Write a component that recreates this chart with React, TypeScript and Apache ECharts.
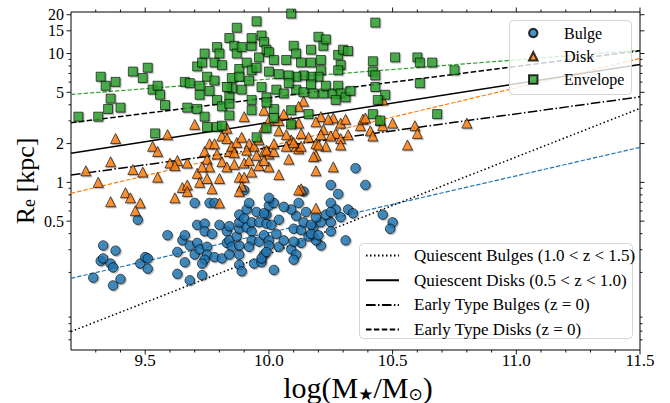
import { useEffect, useRef } from 'react';
import * as echarts from 'echarts';

const FONT = "'Liberation Serif', 'Times New Roman', 'DejaVu Serif', serif";

// ---- scatter data: x = log(M*/Msun), y = log10(Re / kpc) ----
const bulgeLogM = [
  9.47, 9.33, 9.32, 9.33, 9.38, 9.36, 9.37, 9.29, 9.37, 9.40, 9.48, 9.50, 9.51, 9.51, 9.59, 9.63, 9.65, 9.66, 9.66, 9.63,
  9.68, 9.73, 9.68, 9.70, 9.71, 9.71, 9.74, 9.74, 9.77, 9.72, 9.75, 9.75, 9.74, 9.73, 9.78, 9.80, 9.70, 9.76, 9.78, 9.81,
  9.83, 9.83, 9.84, 9.84, 9.85, 9.84, 9.88, 9.88, 9.87, 9.88, 9.88, 9.88, 9.91, 9.92, 9.90, 9.90, 9.91, 9.93, 9.93, 9.95,
  9.96, 9.93, 9.92, 9.88, 9.89, 9.94, 9.97, 9.98, 9.96, 9.98, 10.00, 9.99, 9.99, 10.00,
  10.35, 10.39, 10.25, 10.28, 10.14, 10.12, 10.25, 10.27, 10.32, 10.34, 10.29, 10.25, 10.25, 10.31, 10.46, 10.50, 10.49, 10.21, 10.19, 10.16,
  10.13, 10.09, 10.04, 10.00, 9.97, 9.99, 10.02, 10.10, 10.13, 10.18, 10.21, 10.19, 10.15, 10.11, 10.09, 10.06, 10.02, 10.00, 10.04, 10.01,
  9.98, 10.03, 10.06, 10.10, 10.14, 10.17, 10.23, 10.25, 10.17, 10.20, 10.11, 10.10,
];
const bulgeLogRe = [
  -0.29, -0.49, -0.61, -0.59, -0.53, -0.63, -0.66, -0.74, -0.80, -0.75, -0.63, -0.58, -0.59, -0.67, -0.41, -0.54, -0.45, -0.41, -0.62, -0.71,
  -0.76, -0.72, -0.49, -0.56, -0.47, -0.33, -0.32, -0.38, -0.40, -0.52, -0.50, -0.56, -0.60, -0.63, -0.58, -0.33, -0.16, -0.16, -0.16, -0.59,
  -0.47, -0.38, -0.34, -0.45, -0.50, -0.56, -0.56, -0.49, -0.42, -0.36, -0.31, -0.25, -0.21, -0.16, -0.06, -0.28, -0.35, -0.38, -0.31, -0.23,
  -0.31, -0.45, -0.50, -0.64, -0.69, -0.63, -0.62, -0.56, -0.46, -0.41, -0.45, -0.32, -0.25, -0.18,
  0.11, -0.02, -0.02, -0.09, -0.07, -0.16, -0.16, -0.21, -0.21, -0.24, -0.27, -0.31, -0.38, -0.45, -0.25, -0.31, -0.36, -0.49, -0.45, -0.42,
  -0.47, -0.52, -0.50, -0.49, -0.59, -0.54, -0.68, -0.36, -0.37, -0.35, -0.31, -0.27, -0.23, -0.26, -0.21, -0.19, -0.16, -0.12, -0.29, -0.33,
  -0.24, -0.40, -0.45, -0.46, -0.31, -0.33, -0.25, -0.23, -0.40, -0.41, -0.56, -0.60,
];

const diskLogM = [
  9.26, 9.31, 9.36, 9.38, 9.45, 9.49, 9.53, 9.55, 9.55, 9.59, 9.60, 9.63, 9.67, 9.70, 9.71, 9.74, 9.75, 9.76, 9.78, 9.79,
  9.81, 9.83, 9.84, 9.85, 9.87, 9.89, 9.90, 9.92, 9.94, 9.96, 9.98, 10.00, 10.00, 10.04, 10.04, 10.06, 10.08, 10.09, 10.11, 10.12,
  10.13, 10.14, 10.16, 10.19, 10.19, 10.21, 10.22, 10.23, 10.26, 10.26, 10.27, 10.29, 10.29, 10.31, 10.32, 10.37, 10.38, 10.41, 10.42, 10.45,
  10.46, 10.50, 10.56, 10.59, 10.60, 10.80,
  9.42, 9.44, 9.36, 9.48, 9.46, 9.62, 9.65, 9.67, 9.67, 9.62, 9.72, 9.75, 9.77, 9.80, 9.80, 9.76, 9.73, 9.81, 9.83, 9.86,
  9.86, 9.90, 9.88, 9.90, 9.89, 9.88, 9.92, 9.95, 9.96, 9.98, 9.93, 9.91, 9.99,
  10.02, 10.04, 10.12, 10.18, 10.19, 10.29, 10.12, 10.19, 10.20, 10.07,
  9.98, 10.12, 10.00, 9.98, 10.07, 10.13, 10.19, 10.21, 10.24, 10.25, 10.39, 10.46, 10.09, 10.13, 10.02, 10.10, 9.83,
];
const diskLogRe = [
  0.09, 0.00, 0.16, 0.34, 0.10, 0.08, 0.28, 0.24, 0.04, 0.37, 0.15, 0.17, 0.15, 0.45, 0.07, 0.24, 0.18, 0.30, 0.30, 0.22,
  0.36, 0.34, 0.24, 0.28, 0.31, 0.35, 0.51, 0.30, 0.28, 0.33, 0.24, 0.22, 0.12, 0.40, 0.48, 0.53, 0.18, 0.33, 0.28, 0.46,
  -0.05, 0.63, 0.35, 0.21, 0.30, 0.51, 0.41, 0.28, 0.50, 0.12, 0.38, 0.34, 0.46, 0.49, 0.37, 0.44, 0.49, 0.40, 0.36, 0.48,
  0.64, 0.46, 0.29, 0.44, 0.38, 0.46,
  -0.08, -0.12, -0.15, -0.16, -0.22, 0.13, -0.04, -0.02, -0.07, -0.12, 0.00, 0.03, -0.05, 0.03, -0.16, 0.12, 0.12, 0.16, 0.12, 0.23,
  0.14, 0.15, 0.04, 0.04, -0.03, -0.07, 0.17, 0.21, 0.13, 0.17, 0.08, 0.25, 0.25,
  0.24, 0.06, 0.26, 0.20, 0.09, 0.29, -0.06, -0.20, 0.29, 0.28,
  0.56, 0.59, 0.48, 0.43, 0.37, 0.38, 0.47, 0.37, 0.49, 0.36, 0.50, 0.44, 0.47, 0.28, 0.30, 0.31, 0.42,
];

const envelopeLogM = [
  9.23, 9.31, 9.32, 9.34, 9.35, 9.36, 9.38, 9.40, 9.45, 9.49, 9.51, 9.53, 9.55, 9.56, 9.58, 9.54, 9.66, 9.68, 9.67, 9.72,
  9.72, 9.71, 9.74, 9.71, 9.73, 9.74, 9.75, 9.76, 9.78, 9.78, 9.79, 9.80, 9.81, 9.79, 9.81, 9.84, 9.75, 9.79, 9.81, 9.84,
  9.85, 9.85, 9.84, 9.86, 9.87, 9.87, 9.88, 9.88, 9.89, 9.89, 9.91, 9.92, 9.93, 9.93, 9.95, 9.96, 9.95, 9.97, 9.97, 9.98,
  9.99, 9.93, 9.93, 9.95, 9.99, 9.84, 9.93, 9.83,
  10.09, 10.43, 10.00, 10.02, 10.00, 10.07, 10.10, 10.11, 10.13, 10.17, 10.17, 10.20, 10.22, 10.23, 10.21, 10.21, 10.20, 10.17, 10.14, 10.11,
  10.08, 10.04, 10.03, 10.06, 9.99, 10.11, 10.14, 10.17, 10.18, 10.22, 10.23, 10.26, 10.28, 10.29, 10.27, 10.31, 10.33, 10.28, 10.30, 10.32,
  10.29, 10.28, 10.42, 10.42, 10.43, 10.43, 10.47, 10.44, 10.51, 10.60, 10.61, 10.66, 10.75, 10.61, 10.68, 10.42, 10.45, 10.02, 10.02, 10.09,
  10.16, 10.09, 10.08, 9.99,
];
const envelopeLogRe = [
  0.51, 0.51, 0.82, 0.75, 0.57, 0.65, 0.78, 0.58, 0.86, 0.81, 0.89, 0.72, 0.75, 0.68, 0.60, 0.38, 0.78, 0.77, 0.58, 0.75,
  0.68, 0.57, 0.51, 0.90, 0.93, 1.00, 0.82, 0.71, 0.93, 0.79, 1.05, 1.00, 0.91, 0.64, 0.59, 0.52, 0.43, 0.43, 0.44, 0.67,
  0.81, 0.73, 1.12, 1.06, 1.20, 1.00, 0.88, 0.82, 0.72, 1.05, 0.93, 0.79, 1.06, 0.87, 1.25, 0.97, 0.89, 0.74, 1.14, 1.09,
  1.03, 0.64, 0.56, 0.35, 0.42, 0.61, 1.12, 0.74,
  1.31, 1.24, 1.01, 0.95, 0.86, 0.95, 1.06, 1.00, 0.93, 1.03, 0.93, 1.13, 1.06, 1.11, 0.95, 0.87, 0.82, 0.82, 0.83, 0.82,
  0.83, 0.84, 0.72, 0.69, 0.66, 0.72, 0.70, 0.76, 0.69, 0.69, 0.75, 0.69, 0.75, 0.69, 0.64, 0.66, 0.71, 0.99, 1.03, 1.02,
  0.91, 0.87, 0.94, 0.86, 0.83, 0.74, 0.68, 0.64, 0.97, 0.97, 0.93, 0.93, 0.87, 0.77, 0.53, 0.53, 0.48, 0.57, 0.50, 0.56,
  0.53, 0.45, 0.77, 0.62,
];

// ---- fitted relations, Re (kpc) at the two ends of the mass range ----
const fitLogM = [9.2, 11.5];
const quiescentBulgesRe = [0.0695, 3.75];
const quiescentDisksRe = [1.68, 8.22];
const earlyTypeBulgesRe = [1.14, 4.61];
const earlyTypeDisksRe = [2.9, 10.5];
const bulgeFitRe = [0.18, 1.87];
const diskFitRe = [0.822, 9.15];
const envelopeFitRe = [4.81, 10.6];

// ---- axes ----
const xMajorTicks = [9.5, 10.0, 10.5, 11.0, 11.5];
const xTickLabels = ['9.5', '10.0', '10.5', '11.0', '11.5'];
const xMinorTicks = [9.3, 9.4, 9.6, 9.7, 9.8, 9.9, 10.1, 10.2, 10.3, 10.4, 10.6, 10.7, 10.8, 10.9, 11.1, 11.2, 11.3, 11.4];
const yMajorTicks = [0.5, 1, 2, 5, 10, 15, 20];
const yTickLabels = ['0.5', '1', '2', '5', '10', '15', '20'];
const yMinorTicks = [0.06, 0.07, 0.08, 0.09, 0.2, 0.3, 0.4, 0.6, 0.7, 0.8, 0.9, 3, 4, 6, 7, 8, 9];

type Tick = { axis: 'x' | 'y'; v: number; major: boolean; label?: string };
const ticks: Tick[] = [
  ...xMajorTicks.map((v, i) => ({ axis: 'x' as const, v, major: true, label: xTickLabels[i] })),
  ...xMinorTicks.map((v) => ({ axis: 'x' as const, v, major: false })),
  ...yMajorTicks.map((v, i) => ({ axis: 'y' as const, v, major: true, label: yTickLabels[i] })),
  ...yMinorTicks.map((v) => ({ axis: 'y' as const, v, major: false })),
];

const toPts = (xs: number[], logs: number[]) => xs.map((x, i) => [x, Math.pow(10, logs[i])]);
const linePts = (ys: number[]) => fitLogM.map((x, i) => [x, ys[i]]);

const shadow = { shadowColor: 'rgba(0,0,0,0.35)', shadowOffsetX: 1.2, shadowOffsetY: 1.2, shadowBlur: 0.5 };

function lineSeries(name: string, ys: number[], color: string, width: number, type: any, z = 1) {
  return {
    type: 'line', name, data: linePts(ys), symbol: 'none', silent: true, z,
    itemStyle: { color: 'rgba(0,0,0,0)', borderWidth: 0 },
    lineStyle: { color, width, type, cap: 'butt' },
  };
}

export default function App() {
  const ref = useRef<HTMLDivElement>(null);
  useEffect(() => {
    if (!ref.current) return;
    const chart = echarts.init(ref.current, undefined, { renderer: 'svg' });
    const option: any = {
      animation: false,
      backgroundColor: '#fff',
      grid: { left: 71, right: 30, top: 12, bottom: 53, show: true, borderColor: '#000', borderWidth: 1, backgroundColor: 'transparent' },
      xAxis: {
        type: 'value', min: 9.2, max: 11.5,
        axisLine: { show: false }, axisTick: { show: false }, axisLabel: { show: false }, splitLine: { show: false },
      },
      yAxis: {
        type: 'log', logBase: 10, min: 0.05, max: 21,
        axisLine: { show: false }, axisTick: { show: false }, axisLabel: { show: false }, splitLine: { show: false },
        minorTick: { show: false }, minorSplitLine: { show: false },
      },
      legend: [
        {
          data: ['Bulge', 'Disk', 'Envelope'], orient: 'vertical', left: 528, top: 25, padding: 0,
          itemWidth: 8.5, itemHeight: 8.5, itemGap: 7.3, selectedMode: false,
          textStyle: { fontFamily: FONT, fontSize: 16, color: '#000', lineHeight: 16, padding: [0, 0, 0, 21.5] },
        },
        {
          data: ['Quiescent Bulges (1.0 < z < 1.5)', 'Quiescent Disks (0.5 < z < 1.0)', 'Early Type Bulges (z = 0)', 'Early Type Disks (z = 0)'],
          orient: 'vertical', left: 365, top: 247, padding: 0,
          itemWidth: 33, itemHeight: 8, itemGap: 7.7, selectedMode: false,
          textStyle: { fontFamily: FONT, fontSize: 17, color: '#000', lineHeight: 16, padding: [0, 0, 0, 10] },
        },
      ],
      graphic: [
        { type: 'rect', z: 3, shape: { x: 509.5, y: 20.5, width: 122, height: 74, r: 4 }, style: { fill: 'rgba(255,255,255,0.8)', stroke: '#d5d5d5', lineWidth: 1 } },
        { type: 'rect', z: 3, shape: { x: 359.5, y: 243.5, width: 273, height: 95, r: 4 }, style: { fill: 'rgba(255,255,255,0.8)', stroke: '#d5d5d5', lineWidth: 1 } },
        {
          type: 'text', x: 358, y: 390, z: 5,
          style: {
            text: '{a|log(M}{b|★}{a|/M}{b|⊙}{a|)}', textAlign: 'center', textVerticalAlign: 'middle', align: 'center', verticalAlign: 'middle',
            rich: {
              a: { fontFamily: FONT, fontSize: 30, lineHeight: 24, verticalAlign: 'bottom', fill: '#000', color: '#000' },
              b: { fontFamily: "'DejaVu Sans', sans-serif", fontSize: 17, lineHeight: 12, verticalAlign: 'bottom', fill: '#000', color: '#000' },
            },
          },
        },
        {
          type: 'text', x: 23, y: 181, rotation: Math.PI / 2, z: 5,
          style: {
            text: '{a|R}{b|e}{a| [kpc]}', textAlign: 'center', textVerticalAlign: 'middle', align: 'center', verticalAlign: 'middle',
            rich: {
              a: { fontFamily: FONT, fontSize: 26, lineHeight: 30, verticalAlign: 'bottom', fill: '#000', color: '#000' },
              b: { fontFamily: FONT, fontSize: 18, lineHeight: 18, verticalAlign: 'bottom', fill: '#000', color: '#000' },
            },
          },
        },
      ],
      series: [
        lineSeries('bulge fit', bulgeFitRe, '#1f77b4', 1.2, [4.4, 1.9]),
        lineSeries('disk fit', diskFitRe, '#ff7f0e', 1.2, [4.4, 1.9]),
        lineSeries('envelope fit', envelopeFitRe, '#2ca02c', 1.2, [4.4, 1.9]),
        lineSeries('Quiescent Bulges (1.0 < z < 1.5)', quiescentBulgesRe, '#000', 1.5, [1.5, 2.5]),
        lineSeries('Quiescent Disks (0.5 < z < 1.0)', quiescentDisksRe, '#000', 1.5, 'solid'),
        lineSeries('Early Type Bulges (z = 0)', earlyTypeBulgesRe, '#000', 1.5, [9.6, 2.4, 1.5, 2.4]),
        lineSeries('Early Type Disks (z = 0)', earlyTypeDisksRe, '#000', 1.5, [5.5, 2.4]),
        {
          type: 'scatter', name: 'Bulge', data: toPts(bulgeLogM, bulgeLogRe), symbol: 'circle', symbolSize: 9.5, z: 2,
          itemStyle: { color: '#1f77b4', borderColor: '#000', borderWidth: 0.8, ...shadow },
        },
        {
          type: 'scatter', name: 'Disk', data: toPts(diskLogM, diskLogRe), symbol: 'triangle', symbolSize: 10, z: 2,
          itemStyle: { color: '#ff7f0e', borderColor: '#000', borderWidth: 0.8, ...shadow },
        },
        {
          type: 'scatter', name: 'Envelope', data: toPts(envelopeLogM, envelopeLogRe), symbol: 'rect', symbolSize: 9, z: 2,
          itemStyle: { color: '#2ca02c', borderColor: '#000', borderWidth: 0.8, ...shadow },
        },
        {
          type: 'custom', name: 'ticks', silent: true, clip: false, z: 6,
          data: ticks.map(() => [10, 1]),
          renderItem: (params: any, api: any) => {
            const t = ticks[params.dataIndex];
            const cs = params.coordSys;
            const len = t.major ? 4.5 : 2.5;
            const ls = { stroke: '#000', lineWidth: 0.9 };
            const children: any[] = [];
            if (t.axis === 'x') {
              const px = api.coord([t.v, 1])[0];
              const b = cs.y + cs.height;
              children.push({ type: 'line', shape: { x1: px, y1: b, x2: px, y2: b + len }, style: ls });
              children.push({ type: 'line', shape: { x1: px, y1: cs.y, x2: px, y2: cs.y - len }, style: ls });
              if (t.label) {
                children.push({ type: 'text', x: px, y: b + 10, style: { text: t.label, fill: '#000', fontSize: 17, lineHeight: 14, fontFamily: FONT, align: 'center', verticalAlign: 'middle' } });
              }
            } else {
              const py = api.coord([10, t.v])[1];
              const r = cs.x + cs.width;
              children.push({ type: 'line', shape: { x1: cs.x, y1: py, x2: cs.x - len, y2: py }, style: ls });
              children.push({ type: 'line', shape: { x1: r, y1: py, x2: r + len, y2: py }, style: ls });
              if (t.label) {
                children.push({ type: 'text', x: cs.x - 7, y: py, style: { text: t.label, fill: '#000', fontSize: 16, lineHeight: 13, fontFamily: FONT, align: 'right', verticalAlign: 'middle' } });
              }
            }
            return { type: 'group', children };
          },
        },
      ],
    };
    chart.setOption(option);
    return () => chart.dispose();
  }, []);
  return <div ref={ref} style={{ position: 'absolute', left: 0, top: 0, width: 670, height: 403 }} />;
}
